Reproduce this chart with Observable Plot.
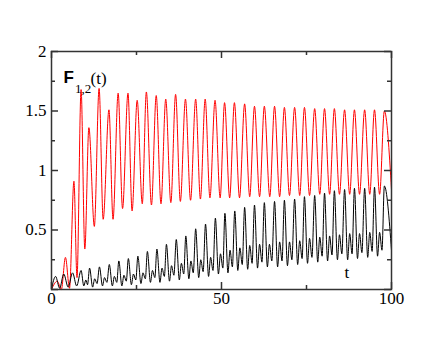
<!DOCTYPE html>
<html><head><meta charset="utf-8">
<script src="https://cdn.jsdelivr.net/npm/d3@7"></script>
<script src="https://cdn.jsdelivr.net/npm/@observablehq/plot@0.6"></script>
<style>body{margin:0;background:#fff}</style>
</head><body><div id="chart"></div>
<script>
// ---- data ----
const redPeakT = [1.7, 4.1, 6.6, 8.7, 11.0, 14.0, 16.9, 19.6, 22.5, 25.2, 27.9, 30.8, 33.6, 36.5, 39.4, 42.4, 45.2, 48.1, 50.9, 53.8, 56.8, 59.7, 62.6, 65.6, 68.5, 71.5, 74.4, 77.4, 80.3, 83.2, 86.2, 89.1, 92.1, 95.0, 97.9];
const redPeakV = [0.07, 0.27, 0.91, 1.68, 1.36, 1.69, 1.51, 1.65, 1.65, 1.59, 1.66, 1.63, 1.60, 1.64, 1.60, 1.60, 1.60, 1.59, 1.57, 1.57, 1.56, 1.54, 1.54, 1.54, 1.53, 1.53, 1.53, 1.52, 1.52, 1.52, 1.51, 1.51, 1.51, 1.51, 1.50];
const redTroughT = [0, 2.9, 5.3, 7.5, 9.8, 12.6, 15.2, 18.1, 20.9, 23.7, 26.7, 29.4, 32.2, 35.1, 37.9, 40.9, 43.8, 46.6, 49.6, 52.4, 55.3, 58.3, 61.2, 64.2, 67.1, 70.0, 73.0, 75.9, 78.9, 81.8, 84.7, 87.7, 90.6, 93.6, 96.5, 100];
const redTroughV = [0, 0, 0.01, 0.10, 0.34, 0.53, 0.59, 0.59, 0.68, 0.66, 0.72, 0.71, 0.72, 0.73, 0.74, 0.75, 0.76, 0.77, 0.77, 0.77, 0.77, 0.78, 0.78, 0.78, 0.78, 0.79, 0.79, 0.79, 0.80, 0.80, 0.80, 0.80, 0.80, 0.80, 0.80, 0.84];

const blackPeakT = [1.2, 3.6, 6.2, 8.7, 11.2, 14.1, 17.0, 19.8, 22.6, 25.4, 28.2, 31.0, 33.8, 36.7, 39.5, 42.4, 45.3, 48.2, 51.0, 53.9, 56.8, 59.7, 62.6, 65.6, 68.5, 71.5, 74.4, 77.4, 80.3, 83.2, 86.2, 89.1, 92.1, 95.0, 97.9];
const blackPeakV = [0.11, 0.13, 0.14, 0.16, 0.18, 0.19, 0.21, 0.24, 0.26, 0.28, 0.32, 0.34, 0.38, 0.42, 0.45, 0.51, 0.55, 0.60, 0.64, 0.66, 0.69, 0.71, 0.73, 0.74, 0.75, 0.76, 0.78, 0.79, 0.81, 0.83, 0.84, 0.85, 0.85, 0.86, 0.87];
const blackLowT = [0, 2.4, 4.9, 7.4, 9.5, 10.6, 12.1, 13.4, 15.0, 16.3, 17.9, 19.2, 20.7, 22.0, 23.5, 24.8, 26.3, 27.6, 29.1, 30.4, 31.9, 33.2, 34.7, 36.0, 37.6, 38.9, 40.4, 41.7, 43.3, 44.6, 46.2, 47.5, 49.1, 50.4, 51.9, 53.2, 54.8, 56.1, 57.7, 59.0, 60.6, 61.9, 63.5, 64.8, 66.5, 67.8, 69.4, 70.7, 72.4, 73.7, 75.3, 76.6, 78.3, 79.6, 81.2, 82.5, 84.1, 85.4, 87.1, 88.4, 90.0, 91.3, 93.0, 94.3, 95.9, 97.2, 100];
const blackLowV = [0, 0.01, 0.02, 0.03, 0.03, 0.04, 0.02, 0.05, 0.03, 0.06, 0.03, 0.06, 0.03, 0.07, 0.04, 0.08, 0.05, 0.09, 0.06, 0.10, 0.06, 0.11, 0.07, 0.12, 0.08, 0.13, 0.09, 0.14, 0.10, 0.15, 0.11, 0.16, 0.13, 0.18, 0.14, 0.19, 0.16, 0.21, 0.17, 0.22, 0.18, 0.23, 0.19, 0.24, 0.19, 0.24, 0.20, 0.25, 0.21, 0.26, 0.22, 0.27, 0.23, 0.28, 0.24, 0.29, 0.25, 0.30, 0.25, 0.30, 0.26, 0.31, 0.27, 0.32, 0.28, 0.33, 0.33];
const blackSecT = [10.1, 12.7, 15.6, 18.5, 21.3, 24.1, 26.9, 29.7, 32.5, 35.3, 38.2, 41.0, 43.9, 46.8, 49.7, 52.5, 55.4, 58.3, 61.2, 64.1, 67.1, 70.0, 73.0, 75.9, 78.9, 81.8, 84.7, 87.7, 90.6, 93.6, 96.5];
const blackSecV = [0.08, 0.09, 0.10, 0.11, 0.12, 0.13, 0.14, 0.16, 0.18, 0.20, 0.22, 0.24, 0.25, 0.27, 0.30, 0.33, 0.35, 0.37, 0.38, 0.38, 0.40, 0.40, 0.41, 0.43, 0.44, 0.45, 0.46, 0.47, 0.47, 0.48, 0.48];

const xMajor = [0, 50, 100];
const xMinor = [25, 75];
const yMajor = [0, 0.5, 1, 1.5, 2];
const yMinor = [0.25, 0.75, 1.25, 1.75];
const xTickLabels = ["0", "50", "100"];
const yLabelValues = [0.5, 1, 1.5, 2];
const yTickLabels = ["0.5", "1", "1.5", "2"];
const titleMain = "F";
const titleSub = "1,2";
const titleArg = "(t)";
const xName = "t";

// ---- build tables ----
const toPts = (T, V) => T.map((t, i) => ({t, v: V[i]}));
const red = [...toPts(redPeakT, redPeakV), ...toPts(redTroughT, redTroughV)].sort((a, b) => a.t - b.t);
const black = [...toPts(blackPeakT, blackPeakV), ...toPts(blackLowT, blackLowV), ...toPts(blackSecT, blackSecV)].sort((a, b) => a.t - b.t);

const W = 440, H = 340, mL = 51, mR = 49, mT = 51, mB = 51;
const innerW = W - mL - mR, innerH = H - mT - mB;
const axisColor = "#333";
const serif = "'Liberation Serif', 'Times New Roman', serif";
const sans = "'Liberation Sans', Arial, sans-serif";
const MAJ = 7, MIN = 4;
const tickStyle = {stroke: axisColor, strokeWidth: 1.5};

const chart = Plot.plot({
  width: W, height: H,
  marginLeft: mL, marginRight: mR, marginTop: mT, marginBottom: mB,
  x: {domain: [0, 100], label: null},
  y: {domain: [0, 2], label: null},
  style: {background: "white", overflow: "visible"},
  marks: [
    Plot.line(red, {x: "t", y: "v", stroke: "#ff0000", strokeWidth: 1, curve: "monotone-x"}),
    Plot.line(black, {x: "t", y: "v", stroke: "#000", strokeWidth: 1, curve: "monotone-x"}),
    Plot.frame({stroke: axisColor, strokeWidth: 1.5}),
    // inward ticks on all four sides
    Plot.ruleX(xMajor, {x: d => d, insetTop: innerH - MAJ, ...tickStyle}),
    Plot.ruleX(xMajor, {x: d => d, insetBottom: innerH - MAJ, ...tickStyle}),
    Plot.ruleX(xMinor, {x: d => d, insetTop: innerH - MIN, ...tickStyle}),
    Plot.ruleX(xMinor, {x: d => d, insetBottom: innerH - MIN, ...tickStyle}),
    Plot.ruleY(yMajor, {y: d => d, insetRight: innerW - MAJ, ...tickStyle}),
    Plot.ruleY(yMajor, {y: d => d, insetLeft: innerW - MAJ, ...tickStyle}),
    Plot.ruleY(yMinor, {y: d => d, insetRight: innerW - MIN, ...tickStyle}),
    Plot.ruleY(yMinor, {y: d => d, insetLeft: innerW - MIN, ...tickStyle}),
    Plot.axisX({ticks: xMajor, tickSize: 0, tickPadding: 2, label: null, fontSize: 17, fontFamily: serif, fill: "#000",
      tickFormat: d => xTickLabels[xMajor.indexOf(d)]}),
    Plot.axisY({ticks: yLabelValues, tickSize: 0, tickPadding: 5, label: null, fontSize: 17, fontFamily: serif, fill: "#000",
      tickFormat: d => yTickLabels[yLabelValues.indexOf(d)]}),
    // annotations
    Plot.text([titleMain], {text: d => d, frameAnchor: "top-left", dx: 12, dy: 31, textAnchor: "start", lineAnchor: "bottom",
      fontFamily: sans, fontWeight: "bold", fontSize: 17, fill: "#000"}),
    Plot.text([titleSub], {text: d => d, frameAnchor: "top-left", dx: 23.5, dy: 41, textAnchor: "start", lineAnchor: "bottom",
      fontFamily: serif, fontSize: 13, fill: "#000"}),
    Plot.text([titleArg], {text: d => d, frameAnchor: "top-left", dx: 39, dy: 32, textAnchor: "start", lineAnchor: "bottom",
      fontFamily: serif, fontSize: 17, fill: "#000"}),
    Plot.text([xName], {text: d => d, frameAnchor: "bottom-right", dx: -47, dy: -12, textAnchor: "start", lineAnchor: "bottom",
      fontFamily: serif, fontSize: 17, fill: "#000"})
  ]
});
document.getElementById("chart").appendChild(chart);
</script>
</body></html>
